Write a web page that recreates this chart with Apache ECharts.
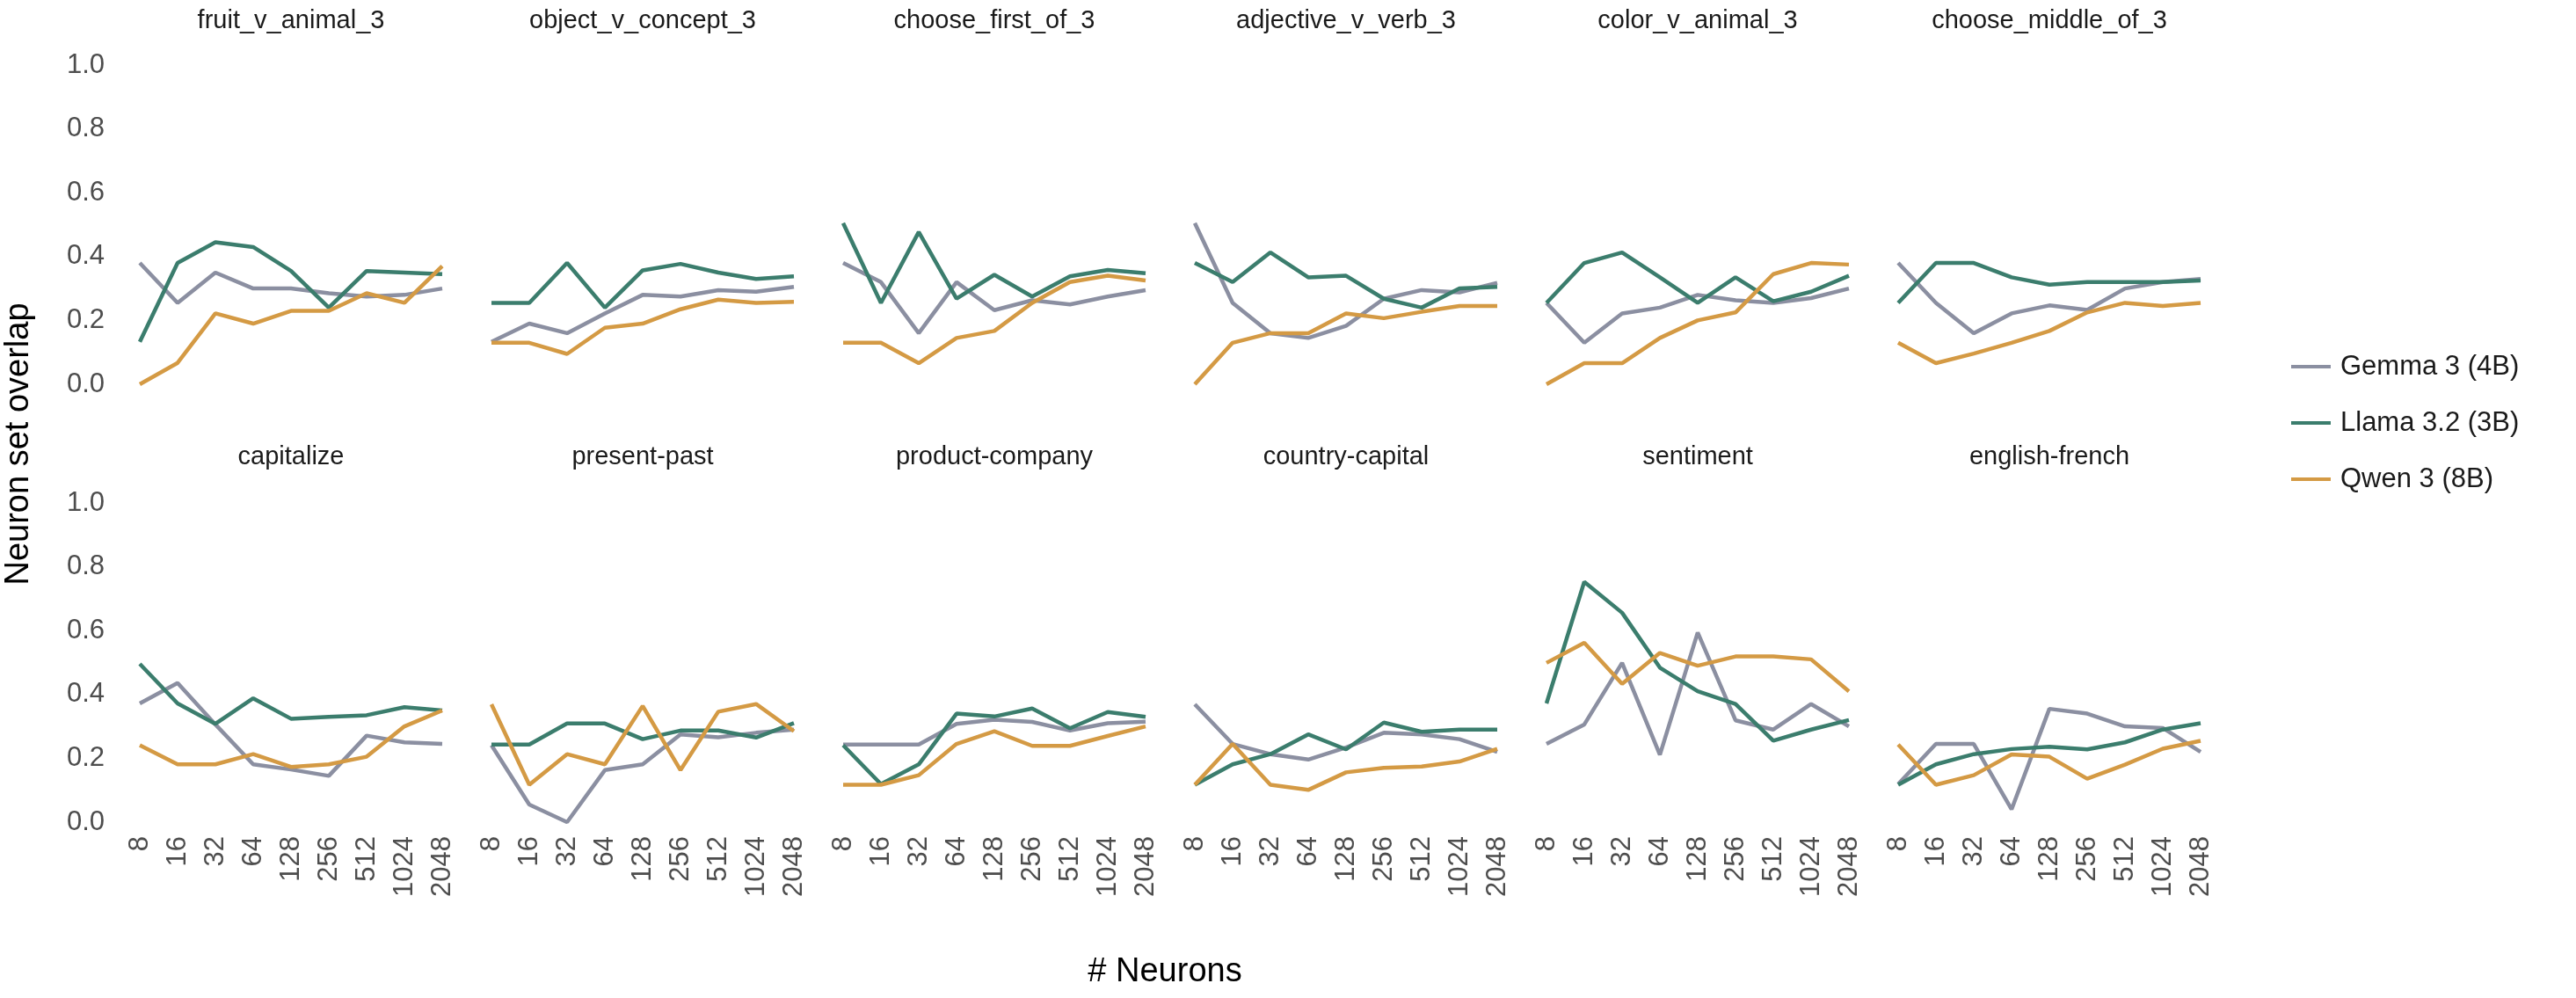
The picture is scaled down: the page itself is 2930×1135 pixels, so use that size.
<!DOCTYPE html>
<html>
<head>
<meta charset="utf-8">
<script src="https://cdn.jsdelivr.net/npm/echarts@6/dist/echarts.min.js"></script>
<style>
html,body{margin:0;padding:0;background:#fff}
#chart{width:2930px;height:1135px}
</style>
</head>
<body>
<div id="chart"></div>
<script>
// x categories (# neurons)
var neurons = ['8', '16', '32', '64', '128', '256', '512', '1024', '2048'];
var tasks = ['fruit_v_animal_3', 'object_v_concept_3', 'choose_first_of_3', 'adjective_v_verb_3', 'color_v_animal_3', 'choose_middle_of_3',
             'capitalize', 'present-past', 'product-company', 'country-capital', 'sentiment', 'english-french'];
var models = ['Gemma 3 (4B)', 'Llama 3.2 (3B)', 'Qwen 3 (8B)'];
var colors = ['#8b8fa1', '#3b7d6d', '#d49a44'];

// neuron set overlap, one row per task
var gemma = [
    [0.38, 0.255, 0.35, 0.30, 0.30, 0.285, 0.275, 0.28, 0.30],
    [0.133, 0.19, 0.16, 0.222, 0.28, 0.275, 0.295, 0.29, 0.305],
    [0.38, 0.32, 0.16, 0.32, 0.232, 0.263, 0.25, 0.275, 0.295],
    [0.505, 0.255, 0.16, 0.145, 0.183, 0.268, 0.295, 0.288, 0.318],
    [0.255, 0.13, 0.222, 0.24, 0.28, 0.263, 0.255, 0.27, 0.30],
    [0.38, 0.255, 0.16, 0.222, 0.247, 0.233, 0.30, 0.32, 0.33],
    [0.372, 0.436, 0.306, 0.181, 0.165, 0.145, 0.271, 0.25, 0.245],
    [0.241, 0.055, 0.0, 0.163, 0.181, 0.275, 0.266, 0.28, 0.29],
    [0.243, 0.243, 0.243, 0.308, 0.321, 0.314, 0.287, 0.31, 0.315],
    [0.369, 0.245, 0.213, 0.196, 0.234, 0.28, 0.275, 0.26, 0.22],
    [0.245, 0.306, 0.499, 0.211, 0.594, 0.319, 0.29, 0.37, 0.30],
    [0.119, 0.245, 0.245, 0.04, 0.355, 0.34, 0.30, 0.295, 0.22]
];
var llama = [
    [0.133, 0.38, 0.445, 0.43, 0.355, 0.24, 0.355, 0.35, 0.345],
    [0.255, 0.255, 0.38, 0.24, 0.357, 0.377, 0.35, 0.33, 0.338],
    [0.505, 0.255, 0.477, 0.268, 0.343, 0.275, 0.338, 0.358, 0.348],
    [0.38, 0.32, 0.413, 0.335, 0.34, 0.268, 0.24, 0.30, 0.305],
    [0.255, 0.38, 0.413, 0.335, 0.255, 0.335, 0.26, 0.29, 0.34],
    [0.255, 0.38, 0.38, 0.335, 0.312, 0.32, 0.32, 0.32, 0.325],
    [0.496, 0.372, 0.308, 0.388, 0.324, 0.33, 0.335, 0.36, 0.35],
    [0.243, 0.243, 0.309, 0.309, 0.26, 0.287, 0.287, 0.265, 0.31],
    [0.241, 0.119, 0.181, 0.34, 0.331, 0.356, 0.294, 0.345, 0.33],
    [0.117, 0.181, 0.213, 0.275, 0.228, 0.312, 0.283, 0.29, 0.29],
    [0.372, 0.753, 0.656, 0.484, 0.41, 0.37, 0.255, 0.29, 0.32],
    [0.117, 0.181, 0.213, 0.229, 0.236, 0.228, 0.25, 0.29, 0.31]
];
var qwen = [
    [0.0, 0.067, 0.222, 0.19, 0.23, 0.23, 0.285, 0.255, 0.37],
    [0.13, 0.13, 0.095, 0.177, 0.19, 0.235, 0.265, 0.255, 0.258],
    [0.13, 0.13, 0.066, 0.145, 0.167, 0.255, 0.32, 0.34, 0.325],
    [0.0, 0.13, 0.16, 0.16, 0.222, 0.207, 0.227, 0.245, 0.245],
    [0.0, 0.066, 0.066, 0.145, 0.20, 0.225, 0.345, 0.38, 0.375],
    [0.13, 0.066, 0.096, 0.13, 0.167, 0.225, 0.255, 0.245, 0.255],
    [0.241, 0.181, 0.181, 0.213, 0.173, 0.181, 0.205, 0.30, 0.35],
    [0.369, 0.117, 0.213, 0.181, 0.364, 0.163, 0.346, 0.37, 0.285],
    [0.117, 0.117, 0.147, 0.245, 0.285, 0.239, 0.239, 0.27, 0.30],
    [0.117, 0.245, 0.117, 0.101, 0.156, 0.17, 0.174, 0.19, 0.23],
    [0.499, 0.562, 0.433, 0.53, 0.49, 0.519, 0.519, 0.51, 0.41],
    [0.243, 0.117, 0.147, 0.212, 0.205, 0.136, 0.18, 0.23, 0.255]
];

var FONT = '"Liberation Sans", Arial, Helvetica, sans-serif';
var panelLeft = 159, panelPitch = 400, panelWidth = 344;
var rowTop = [74, 572], panelHeight = 363;

var chart = echarts.init(document.getElementById('chart'));

var grid = [], xAxis = [], yAxis = [], series = [], graphic = [];
tasks.forEach(function (task, i) {
    var row = Math.floor(i / 6), col = i % 6;
    var left = panelLeft + col * panelPitch;
    grid.push({ left: left, top: rowTop[row], width: panelWidth, height: panelHeight, containLabel: false });
    xAxis.push({
        type: 'category', gridIndex: i, data: neurons, boundaryGap: false,
        axisLine: { show: false }, axisTick: { show: false }, splitLine: { show: false },
        axisLabel: { show: row === 1, rotate: 90, interval: 0, margin: 16, fontSize: 31, color: '#4d4d4d', fontFamily: FONT }
    });
    yAxis.push({
        type: 'value', gridIndex: i, min: 0, max: 1, interval: 0.2,
        axisLine: { show: false }, axisTick: { show: false }, splitLine: { show: false },
        axisLabel: {
            show: col === 0, margin: 40, fontSize: 31, color: '#4d4d4d', fontFamily: FONT,
            formatter: function (v) { return v.toFixed(1); }
        }
    });
    [gemma, llama, qwen].forEach(function (arr, m) {
        series.push({
            name: models[m], type: 'line', xAxisIndex: i, yAxisIndex: i,
            data: arr[i], symbol: 'none', smooth: false, animation: false,
            lineStyle: { color: colors[m], width: 4.5 }, itemStyle: { color: colors[m] }
        });
    });
    // facet strip title
    graphic.push({
        type: 'text', x: left + panelWidth / 2, y: row === 0 ? 24 : 520,
        style: { text: task, fontSize: 29, fontFamily: FONT, fill: '#1a1a1a', textAlign: 'center', textVerticalAlign: 'middle' }
    });
});

graphic.push({
    type: 'text', x: 22, y: 505, rotation: Math.PI / 2,
    style: { text: 'Neuron set overlap', fontSize: 38, fontFamily: FONT, fill: '#000', textAlign: 'center', textVerticalAlign: 'middle' }
});
graphic.push({
    type: 'text', x: 1325, y: 1106,
    style: { text: '# Neurons', fontSize: 38, fontFamily: FONT, fill: '#000', textAlign: 'center', textVerticalAlign: 'middle' }
});

var option = {
    backgroundColor: '#fff',
    animation: false,
    color: colors,
    grid: grid,
    xAxis: xAxis,
    yAxis: yAxis,
    series: series,
    graphic: graphic,
    legend: {
        data: models, orient: 'vertical', left: 2601, top: 395,
        icon: 'rect', itemWidth: 45, itemHeight: 4, itemGap: 30,
        textStyle: { fontSize: 31, color: '#1a1a1a', fontFamily: FONT, padding: [0, 0, 0, 6], lineHeight: 34 }
    }
};

chart.setOption(option);
</script>
</body>
</html>
